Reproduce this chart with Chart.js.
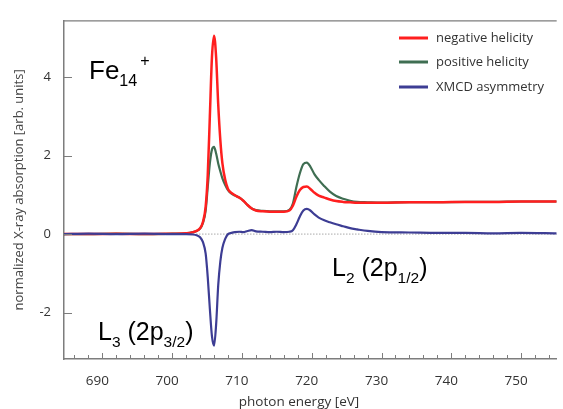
<!DOCTYPE html>
<html>
<head>
<meta charset="utf-8">
<script src="https://cdn.jsdelivr.net/npm/chart.js@4.4.0/dist/chart.umd.min.js"></script>
<style>
    html, body { margin: 0; padding: 0; background: #fff; overflow: hidden; }
    #wrap { width: 563px; height: 409px; }
</style>
</head>
<body>
<div id="wrap"><canvas id="xas" width="563" height="409"></canvas></div>
<script>
// photon energy [eV]
const energy = [
    684.5, 688, 692, 696, 700, 702, 703, 703.5, 704, 704.4, 704.8, 705.1, 705.4, 705.7,
    706.0, 706.3, 706.6, 706.9, 707.2, 707.6, 708.0, 708.5, 709, 709.6, 710.2, 710.8,
    711.4, 712, 713, 714, 715, 716, 716.8, 717.3, 717.8, 718.3, 718.8, 719.3, 719.8,
    720.4, 721, 721.8, 722.6, 723.5, 724.5, 725.5, 726.5, 728, 730, 734, 738, 742,
    746, 750, 755.1
];
const negativeHelicity = [
    0.0, 0.0, 0.01, 0.0, 0.01, 0.02, 0.05, 0.08, 0.15, 0.3, 0.7, 1.5, 3.0, 4.5,
    5.05, 4.5, 3.3, 2.4, 1.8, 1.38, 1.15, 1.05, 0.99, 0.93, 0.85, 0.74,
    0.65, 0.6, 0.58, 0.57, 0.57, 0.57, 0.6, 0.72, 0.95, 1.12, 1.2, 1.21, 1.15,
    1.05, 0.98, 0.93, 0.88, 0.84, 0.82, 0.81, 0.8, 0.8, 0.8, 0.81, 0.81, 0.82,
    0.82, 0.83, 0.83
];
const positiveHelicity = [
    0.0, 0.0, 0.01, 0.0, 0.01, 0.02, 0.05, 0.08, 0.14, 0.28, 0.6, 1.2, 1.8, 2.15,
    2.22, 2.05, 1.8, 1.6, 1.42, 1.25, 1.12, 1.03, 0.98, 0.93, 0.85, 0.74,
    0.65, 0.61, 0.59, 0.58, 0.58, 0.58, 0.62, 0.78, 1.2, 1.55, 1.78, 1.82, 1.72,
    1.52, 1.38, 1.22, 1.08, 0.97, 0.9, 0.85, 0.82, 0.81, 0.8, 0.81, 0.81, 0.82,
    0.82, 0.83, 0.83
];
const xmcdAsymmetry = [
    0.0, 0.01, 0.0, 0.01, 0.0, 0.0, -0.01, -0.03, -0.08, -0.2, -0.5, -1.1, -1.9, -2.6,
    -2.84, -2.3, -1.3, -0.7, -0.35, -0.12, 0.0, 0.03, 0.05, 0.06, 0.05, 0.08,
    0.1, 0.07, 0.06, 0.05, 0.06, 0.05, 0.06, 0.1, 0.25, 0.45, 0.6, 0.64, 0.6,
    0.5, 0.42, 0.35, 0.3, 0.25, 0.2, 0.15, 0.12, 0.08, 0.05, 0.04, 0.03, 0.03,
    0.02, 0.03, 0.02
];
const seriesNames = ['negative helicity', 'positive helicity', 'XMCD asymmetry'];
const yTickValues = [-2, 0, 2, 4];

const AXIS_COLOR = '#7d7d7d';
const TEXT_COLOR = '#333';
const UI_FONT = '"Open Sans", "DejaVu Sans", sans-serif';
const LABEL_FONT = '"Liberation Sans", Arial, sans-serif';

function toPoints(values) {
    return energy.map(function (e, i) { return { x: e, y: values[i] }; });
}

// inward tick marks, top frame line and dotted zero line
const framePlugin = {
    id: 'frame',
    beforeDatasetsDraw(chart) {
        const ctx = chart.ctx;
        const area = chart.chartArea;
        const y0 = chart.scales.y.getPixelForValue(0);
        ctx.save();
        ctx.strokeStyle = '#aaa';
        ctx.lineWidth = 1;
        ctx.setLineDash([1.5, 1.5]);
        ctx.beginPath();
        ctx.moveTo(area.left, y0);
        ctx.lineTo(area.right, y0);
        ctx.stroke();
        ctx.restore();
    },
    afterDraw(chart) {
        const ctx = chart.ctx;
        const area = chart.chartArea;
        const xs = chart.scales.x;
        const ys = chart.scales.y;
        ctx.save();
        ctx.strokeStyle = AXIS_COLOR;
        ctx.lineWidth = 1.3;
        ctx.beginPath();
        ctx.moveTo(area.left, area.top);
        ctx.lineTo(area.right, area.top);
        ctx.stroke();

        ctx.lineWidth = 1;
        xs.ticks.forEach(function (t) {
            if (Math.abs(t.value % 2) > 1e-6) return;
            const px = Math.round(xs.getPixelForValue(t.value)) + 0.5;
            const len = Math.abs(t.value % 10) < 1e-6 ? 6 : 4;
            ctx.beginPath();
            ctx.moveTo(px, area.bottom);
            ctx.lineTo(px, area.bottom - len);
            ctx.stroke();
        });
        yTickValues.forEach(function (v) {
            const py = Math.round(ys.getPixelForValue(v)) + 0.5;
            ctx.beginPath();
            ctx.moveTo(area.left, py);
            ctx.lineTo(area.left + 8, py);
            ctx.stroke();
        });

        // x axis title
        ctx.fillStyle = TEXT_COLOR;
        ctx.font = '13.5px ' + UI_FONT;
        ctx.textAlign = 'center';
        ctx.textBaseline = 'middle';
        ctx.fillText('photon energy [eV]', 299, 402);
        ctx.restore();
    }
};

// legend drawn as line samples at the top right
const legendPlugin = {
    id: 'lineLegend',
    afterDraw(chart) {
        const ctx = chart.ctx;
        const rows = [38, 62, 87];
        ctx.save();
        ctx.font = '13px ' + UI_FONT;
        ctx.textBaseline = 'middle';
        ctx.textAlign = 'left';
        chart.data.datasets.forEach(function (ds, i) {
            ctx.strokeStyle = ds.borderColor;
            ctx.lineWidth = 3;
            ctx.beginPath();
            ctx.moveTo(399, rows[i]);
            ctx.lineTo(428, rows[i]);
            ctx.stroke();
            ctx.fillStyle = TEXT_COLOR;
            ctx.fillText(ds.label, 436, rows[i]);
        });
        ctx.restore();
    }
};

// draws text runs with subscripts / superscripts
function drawRich(ctx, x, y, parts, size) {
    parts.forEach(function (p) {
        const s = p.sub || p.sup ? size * 0.62 : size;
        const dy = p.sub ? size * 0.28 : (p.sup ? -size * 0.5 : 0);
        ctx.font = s + 'px ' + LABEL_FONT;
        ctx.fillText(p.t, x, y + dy);
        x += ctx.measureText(p.t).width + (p.gap || 0);
    });
}

const labelPlugin = {
    id: 'edgeLabels',
    afterDraw(chart) {
        const ctx = chart.ctx;
        ctx.save();
        ctx.fillStyle = '#000';
        ctx.textBaseline = 'alphabetic';
        ctx.textAlign = 'left';
        drawRich(ctx, 89, 79, [{ t: 'Fe' }, { t: '14', sub: true, gap: 3 }, { t: '+', sup: true }], 26);
        drawRich(ctx, 332, 276, [{ t: 'L' }, { t: '2', sub: true }, { t: ' (2p' }, { t: '1/2', sub: true }, { t: ')' }], 25);
        drawRich(ctx, 98, 340, [{ t: 'L' }, { t: '3', sub: true }, { t: ' (2p' }, { t: '3/2', sub: true }, { t: ')' }], 25);
        ctx.restore();
    }
};

new Chart(document.getElementById('xas').getContext('2d'), {
    type: 'line',
    data: {
        datasets: [{
            label: seriesNames[0],
            data: toPoints(negativeHelicity),
            borderColor: '#ff1f1f',
            borderWidth: 2.5,
            order: 1,
        }, {
            label: seriesNames[1],
            data: toPoints(positiveHelicity),
            borderColor: '#3f6e52',
            borderWidth: 2.2,
            order: 2,
        }, {
            label: seriesNames[2],
            data: toPoints(xmcdAsymmetry),
            borderColor: '#3d3d94',
            borderWidth: 2.2,
            order: 0,
        }],
    },
    options: {
        responsive: false,
        animation: false,
        cubicInterpolationMode: 'monotone',
        elements: { point: { radius: 0 } },
        layout: { padding: { top: 15, right: 0, left: 0, bottom: 0 } },
        plugins: { legend: { display: false }, tooltip: { enabled: false } },
        scales: {
            x: {
                type: 'linear',
                min: 684.5,
                max: 755.1,
                afterFit: function (scale) { scale.height = 50; },
                grid: { display: false, drawTicks: false },
                border: { display: true, color: AXIS_COLOR, width: 1.5 },
                ticks: {
                    stepSize: 2,
                    includeBounds: false,
                    autoSkip: false,
                    maxRotation: 0,
                    padding: 14,
                    labelOffset: -5,
                    color: TEXT_COLOR,
                    font: { family: UI_FONT, size: 13.5 },
                    callback: function (v) { return v % 10 === 0 ? String(v) : ''; },
                },
            },
            y: {
                min: -3.18,
                max: 5.43,
                afterFit: function (scale) { scale.width = 64; },
                grid: { display: false, drawTicks: false },
                border: { display: true, color: AXIS_COLOR, width: 1.5 },
                ticks: {
                    stepSize: 2,
                    includeBounds: false,
                    padding: 13,
                    color: TEXT_COLOR,
                    font: { family: UI_FONT, size: 13 },
                },
                title: {
                    display: true,
                    text: 'normalized X-ray absorption [arb. units]',
                    color: '#444',
                    font: { family: UI_FONT, size: 13 },
                    padding: { top: 11, bottom: 0 },
                },
            },
        },
    },
    plugins: [framePlugin, legendPlugin, labelPlugin],
});
</script>
</body>
</html>
